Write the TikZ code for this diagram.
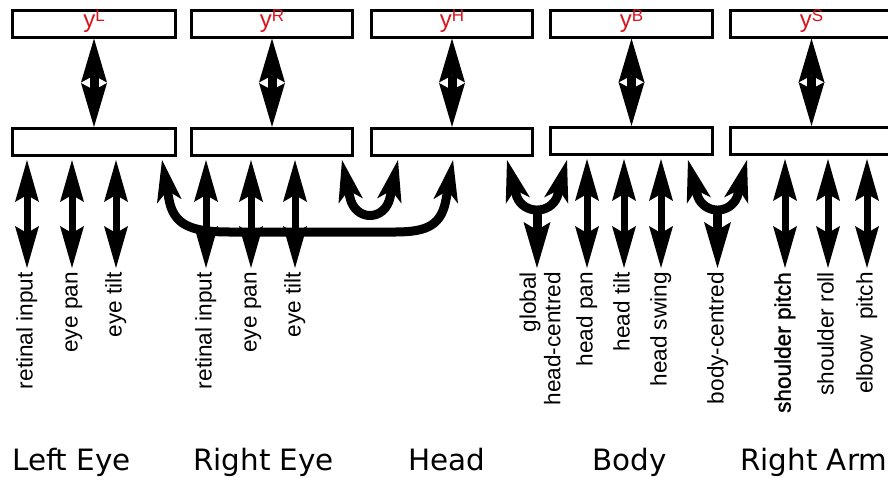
\documentclass[tikz,border=0pt]{standalone}
\usepackage{fontspec}
\setmainfont{Liberation Sans}
\newfontfamily\grpfont{DejaVu Sans}
\newfontfamily\heavyfont[FakeBold=1.2]{Liberation Sans}
\usetikzlibrary{arrows.meta}
\definecolor{ylabred}{RGB}{220,20,30}
\tikzset{
  blk/.style={draw=black, line width=3pt, fill=white, inner sep=0pt, outer sep=1.5pt},
  topbox/.style={blk, minimum height=26.5pt},
  botbox/.style={blk, minimum height=27pt},
  ylab/.style={text=ylabred, inner sep=0pt, anchor=base, font=\fontsize{24}{24}\selectfont},
  lab/.style={inner sep=0pt, rotate=90, anchor=east, font=\fontsize{22.6}{24.6}\selectfont},
  lab1/.style={lab, text height=16pt, text depth=4.7pt},
  grp/.style={inner sep=0pt, anchor=base west, font=\grpfont\fontsize{29.4}{29.4}\selectfont},
  bigarr/.style={line width=9pt, arrows={Stealth[length=44pt,width=26pt,inset=7pt,line width=0pt]-Stealth[length=44pt,width=26pt,inset=7pt,line width=0pt]}},
  smarr/.style={line width=7pt, arrows={Stealth[length=42pt,width=24pt,inset=7pt,line width=0pt]-Stealth[length=42pt,width=24pt,inset=7pt,line width=0pt]}, shorten <=3pt, shorten >=4pt},
  crv/.style={line width=9pt, line join=round, arrows={Stealth[length=42pt,width=25pt,inset=11pt,line width=0pt]-Stealth[length=42pt,width=25pt,inset=11pt,line width=0pt]}},
  stemarr/.style={line width=9pt, arrows={-Stealth[length=46pt,width=27pt,inset=8pt,line width=0pt]}, shorten >=4pt},
}
\begin{document}
\begin{tikzpicture}[x=1pt,y=-1pt]
\useasboundingbox (0,0) rectangle (888,477);
\fill[white] (0,0) rectangle (888,477);
\clip (0,0) rectangle (888,477);
% boxes
\node[topbox, minimum width=163pt] (tL) at (94,23.75) {};
\node[botbox, minimum width=163pt] (bL) at (94,142) {};
\node[topbox, minimum width=161pt] (tR) at (272,23.75) {};
\node[botbox, minimum width=161pt] (bR) at (272,142) {};
\node[topbox, minimum width=161pt] (tH) at (452,23.75) {};
\node[botbox, minimum width=161pt] (bH) at (452,142) {};
\node[topbox, minimum width=162pt] (tB) at (631.5,23.75) {};
\node[botbox, minimum width=162pt] (bB) at (631.5,141) {};
\node[topbox, minimum width=162pt] (tS) at (811.5,23.75) {};
\node[botbox, minimum width=162pt] (bS) at (811.5,141) {};
% top labels
\node[ylab] (yL) at ([yshift=-3.5pt]tL.center) {y\raisebox{6pt}{\fontsize{17}{17}\selectfont L}};
\node[ylab] (yR) at ([yshift=-3.5pt]tR.center) {y\raisebox{6pt}{\fontsize{17}{17}\selectfont R}};
\node[ylab] (yH) at ([yshift=-3.5pt]tH.center) {y\raisebox{6pt}{\fontsize{17}{17}\selectfont H}};
\node[ylab] (yB) at ([yshift=-3.5pt]tB.center) {y\raisebox{6pt}{\fontsize{17}{17}\selectfont B}};
\node[ylab] (yS) at ([yshift=-3.5pt]tS.center) {y\raisebox{6pt}{\fontsize{17}{17}\selectfont S}};
% vertical double arrows
\draw[bigarr] (tL.south) -- (bL.north);
\draw[bigarr] (tR.south) -- (bR.north);
\draw[bigarr] (tH.south) -- (bH.north);
\draw[bigarr] (tB.south) -- (bB.north);
\draw[bigarr] (tS.south) -- (bS.north);
% rotated labels
\node[lab1] (l1) at (27,272) {retinal input};
\node[lab1] (l2) at (72,272) {eye pan};
\node[lab1] (l3) at (116,272) {eye tilt};
\node[lab1] (r1) at (206,272) {retinal input};
\node[lab1] (r2) at (251,272) {eye pan};
\node[lab1] (r3) at (295,272) {eye tilt};
\node[lab, align=right] (gl) at (540,272) {global\\head-centred};
\node[lab1] (hp) at (587,272) {head pan};
\node[lab1] (ht) at (624,272) {head tilt};
\node[lab1] (hs) at (661,272) {head swing};
\node[lab1] (bc) at (718,272) {body-centred};
\node[lab1, font=\heavyfont\fontsize{22.6}{24.6}\selectfont] (sp) at (785,272) {shoulder pitch};
\node[lab1] (sr) at (828,272) {shoulder roll};
\node[lab1] (ep) at (867,272) {elbow\hspace{15pt}pitch};
% straight small arrows
\draw[smarr] (l1.east |- bL.south) -- (l1.east);
\draw[smarr] (l2.east |- bL.south) -- (l2.east);
\draw[smarr] (l3.east |- bL.south) -- (l3.east);
\draw[smarr] (r1.east |- bR.south) -- (r1.east);
\draw[smarr] (r2.east |- bR.south) -- (r2.east);
\draw[smarr] (r3.east |- bR.south) -- (r3.east);
\draw[smarr] (hp.east |- bB.south) -- (hp.east);
\draw[smarr] (ht.east |- bB.south) -- (ht.east);
\draw[smarr] (hs.east |- bB.south) -- (hs.east);
\draw[smarr] (sp.east |- bS.south) -- (sp.east);
\draw[smarr] (sr.east |- bS.south) -- (sr.east);
\draw[smarr] (ep.east |- bS.south) -- (ep.east);
% big curve: left eye to head
\draw[crv] ([xshift=68pt,yshift=-3pt]bL.south) -- (168.6,197.4)
  .. controls (173,225) and (190,232) .. (230,232) -- (395,232)
  .. controls (428,232) and (442,225) .. (446.4,197.4)
  -- ([xshift=1pt,yshift=-3pt]bH.south);
% small U: right eye to head
\draw[crv] ([xshift=70pt,yshift=-3pt]bR.south) -- (349.9,197.2)
  .. controls (355,221.6) and (385,221.6) .. (390.1,197.2)
  -- ([xshift=-54pt,yshift=-3pt]bH.south);
% Y 1: head / body -> global head-centred
\coordinate (j1) at (537,207);
\draw[crv] ([xshift=55pt,yshift=-3pt]bH.south) -- (516.8,196.7)
  .. controls (524,214.5) and (550,214.5) .. (557.2,196.7)
  -- ([xshift=-64.5pt,yshift=-4pt]bB.south);
\draw[stemarr] (j1) -- (j1 |- gl.east);
% Y 2: body / arm -> body-centred
\coordinate (j2) at (717.5,207);
\draw[crv] ([xshift=56.5pt,yshift=-4pt]bB.south) -- (697.8,196.7)
  .. controls (705,214.5) and (730,214.5) .. (737.2,196.7)
  -- ([xshift=-64.5pt,yshift=-4pt]bS.south);
\draw[stemarr] (j2) -- (j2 |- bc.east);
% group labels
\node[grp] (gLE) at (12,470) {Left Eye};
\node[grp] (gRE) at (193,470) {Right Eye};
\node[grp] (gH) at (408,470) {Head};
\node[grp] (gB) at (592,470) {Body};
\node[grp] (gA) at (740,470) {Right Arm};
\end{tikzpicture}
\end{document}
